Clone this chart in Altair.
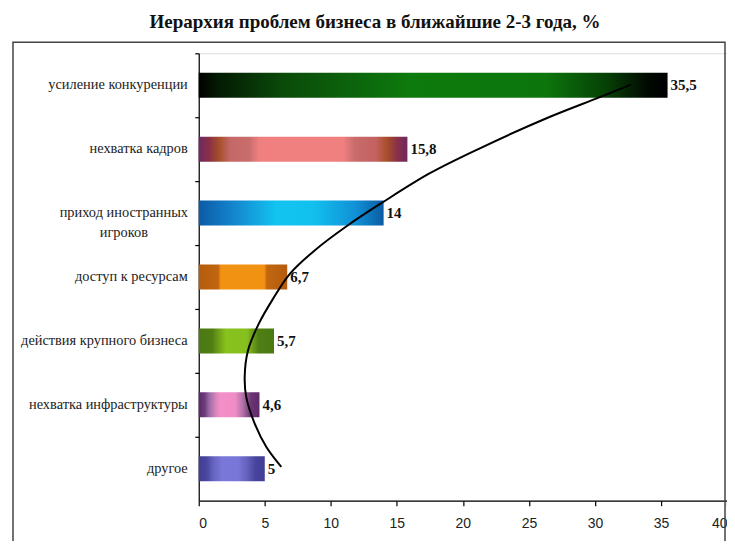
import altair as alt
import pandas as pd

# ---- data ----
categories = ["усиление конкуренции", "нехватка кадров", "приход иностранных игроков",
              "доступ к ресурсам", "действия крупного бизнеса", "нехватка инфраструктуры", "другое"]
display_names = ["усиление конкуренции", "нехватка кадров", "приход иностранных\nигроков",
                 "доступ к ресурсам", "действия крупного бизнеса", "нехватка инфраструктуры", "другое"]
values = [35.5, 15.8, 14, 6.7, 5.7, 4.6, 5]
value_labels = ["35,5", "15,8", "14", "6,7", "5,7", "4,6", "5"]

# trend curve (value, position in category units from top)
curve_value = [32.72, 30.32, 26.29, 21.25, 17.47, 13.94, 11.3, 8.8, 6.9, 5.6, 4.55, 3.73, 3.48, 3.6, 4.23, 5.12, 6.25]
curve_pos = [0.49, 0.69, 1.02, 1.49, 1.88, 2.33, 2.69, 3.08, 3.45, 3.85, 4.23, 4.65, 5.06, 5.38, 5.79, 6.16, 6.47]

x_ticks = [0, 5, 10, 15, 20, 25, 30, 35, 40]

bar_stops = [
    [(0, "#000000"), (0.04, "#031a03"), (0.18, "#0a4a0a"), (0.45, "#0d7a0d"), (0.74, "#0c760c"),
     (0.87, "#064006"), (0.96, "#010801"), (1, "#000000")],
    [(0, "#6e2860"), (0.05, "#8a3048"), (0.1, "#a8502a"), (0.15, "#c46868"), (0.24, "#c86c6c"),
     (0.29, "#f08080"), (0.69, "#f08080"), (0.75, "#c86c6c"), (0.85, "#c46060"), (0.9, "#a8502a"),
     (0.95, "#8a3048"), (1, "#6e2860")],
    [(0, "#0c5aa6"), (0.2, "#1488d0"), (0.42, "#12c4f0"), (0.62, "#12c0ee"), (0.85, "#1090d6"), (1, "#0c5ca2")],
    [(0, "#b45c0e"), (0.22, "#c2660f"), (0.25, "#f29212"), (0.74, "#f29212"), (0.77, "#c2660f"), (1, "#b45c0e")],
    [(0, "#4a7812"), (0.18, "#507e14"), (0.26, "#6c9e18"), (0.36, "#88c21e"), (0.64, "#86c01e"),
     (0.72, "#6a9c18"), (0.8, "#4e7e14"), (1, "#4a7812")],
    [(0, "#5a2a66"), (0.1, "#6e3c7c"), (0.17, "#9a6aa6"), (0.3, "#e488c0"), (0.36, "#f290c8"),
     (0.6, "#f08cc6"), (0.72, "#b474aa"), (0.86, "#6c3474"), (1, "#5e2a68")],
    [(0, "#403e94"), (0.12, "#48469e"), (0.22, "#6664c0"), (0.35, "#7a78d8"), (0.6, "#7876d6"),
     (0.74, "#6260ba"), (0.86, "#46449c"), (1, "#403e94")],
]

df = pd.DataFrame({"cat": categories, "name": display_names, "value": values, "lab": value_labels})
curve_df = pd.DataFrame({"cv": curve_value, "cp": curve_pos})
frame_df = pd.DataFrame({"k": [0]})

SERIF = "Liberation Serif"
SANS = "Liberation Sans Narrow, Liberation Sans, Arial, sans-serif"

x_enc = alt.X("value:Q", scale=alt.Scale(domain=[0, 40], nice=False, zero=True),
              axis=alt.Axis(values=x_ticks, title=None, grid=False, tickSize=5, tickColor="black",
                            domainColor="black", domainWidth=1.2, tickWidth=1.2,
                            labelFont=SANS, labelFontSize=14, labelColor="#222", labelPadding=11))
y_enc = alt.Y("cat:N", sort=categories, scale=alt.Scale(paddingInner=0, paddingOuter=0),
              axis=alt.Axis(labels=False, title=None, bandPosition=0, tickSize=4, tickColor="black",
                            domainColor="black", domainWidth=1.2, tickWidth=1.2, grid=False))

base = alt.Chart(df)

bar_layers = []
for c, stops in zip(categories, bar_stops):
    grad = alt.Gradient(gradient="linear", x1=0, x2=1, y1=0, y2=0,
                        stops=[alt.GradientStop(offset=o, color=col) for o, col in stops])
    bar_layers.append(
        base.transform_filter(alt.datum.cat == c)
        .mark_bar(size=25, color=grad)
        .encode(x=x_enc, y=y_enc)
    )

value_text = base.mark_text(align="left", baseline="middle", dx=3, font=SERIF, fontSize=15,
                            fontWeight="bold", color="#111").encode(
    x=alt.X("value:Q"), y=alt.Y("cat:N", sort=categories), text="lab:N")

cat_text_single = base.transform_filter(alt.datum.cat != "приход иностранных игроков").mark_text(
    align="right", baseline="middle", font=SERIF, fontSize=14.4, color="#222").encode(
    x=alt.value(-11), y=alt.Y("cat:N", sort=categories), text="name:N")

cat_text_multi = base.transform_filter(alt.datum.cat == "приход иностранных игроков").mark_text(
    align="center", baseline="middle", font=SERIF, fontSize=14.4, color="#222",
    lineBreak="\n", lineHeight=20).encode(
    x=alt.value(-75), y=alt.Y("cat:N", sort=categories), text="name:N")

bars_group = alt.layer(*bar_layers, value_text, cat_text_single, cat_text_multi)

curve = alt.Chart(curve_df).mark_line(color="black", strokeWidth=2, interpolate="catmull-rom").encode(
    x=alt.X("cv:Q"),
    y=alt.Y("cp:Q", scale=alt.Scale(domain=[0, 7], reverse=True, nice=False, zero=False), axis=None),
    order="cp:Q")

frame = alt.Chart(frame_df).mark_rect(filled=False, stroke="#444", strokeWidth=1.5).encode(
    x=alt.value(-186), x2=alt.value(527), y=alt.value(-11), y2=alt.value(560))

chart = alt.layer(frame, bars_group, curve).resolve_scale(y="independent").properties(
    width=529, height=448,
    autosize=alt.AutoSizeParams(type="none"),
    padding={"left": 191, "top": 45, "right": 0, "bottom": 40},
    title=alt.TitleParams("Иерархия проблем бизнеса в ближайшие 2-3 года, %", font=SERIF,
                          fontSize=19, fontWeight="bold", color="#111", anchor="middle",
                          dx=-88, offset=10),
).configure_view(stroke=None).configure(background="white")

chart.save("out.html", embed_options={"renderer": "svg", "actions": False})
